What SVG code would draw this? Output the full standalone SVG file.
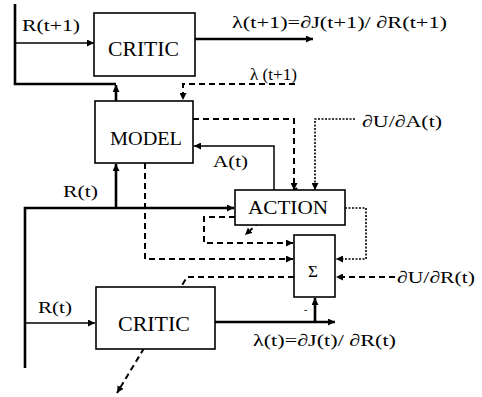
<svg xmlns="http://www.w3.org/2000/svg" width="482" height="397" viewBox="0 0 482 397">
<defs>
<marker id="ah" viewBox="0 0 10 10" refX="10" refY="5" markerWidth="7" markerHeight="7" markerUnits="userSpaceOnUse" orient="auto">
<path d="M0,0 L10,5 L0,10 z" fill="#000"/>
</marker>
</defs>
<style>
.box{fill:#fff;stroke:#000;stroke-width:1.6}
.t{font-family:"Liberation Serif","Times New Roman",serif;fill:#000}
.s{fill:none;stroke:#000;stroke-width:1.5}
.k{fill:none;stroke:#000;stroke-width:2.6}
.d{fill:none;stroke:#000;stroke-width:2;stroke-dasharray:6 4}
.o{fill:none;stroke:#000;stroke-width:1.6;stroke-dasharray:2 1.5}
</style>
<rect width="482" height="397" fill="#fff"/>
<g id="connectors">
<path class="k" d="M15,4 V84 H116"/>
<path class="s" d="M15,43 H94" marker-end="url(#ah)"/>
<path class="k" d="M116,101 V85" marker-end="url(#ah)"/>
<path class="k" d="M195,39 H313" marker-end="url(#ah)"/>
<path class="d" d="M295,84 H183 V100" marker-end="url(#ah)"/>
<path class="d" d="M193,119 H294 V190" marker-end="url(#ah)"/>
<path class="o" d="M355,119 H315 V190" marker-end="url(#ah)"/>
<path class="s" d="M274,190 V146 H194" marker-end="url(#ah)"/>
<path class="k" d="M25,368 V208 H234" marker-end="url(#ah)"/>
<path class="k" d="M116,208 V164" marker-end="url(#ah)"/>
<path class="s" d="M25,323 H95" marker-end="url(#ah)"/>
<path class="d" d="M145,163 V259 H293" marker-end="url(#ah)"/>
<path class="d" d="M235,217 H204 V243 H293" marker-end="url(#ah)"/>
<path class="d" d="M294,277 H187 L117,393" marker-end="url(#ah)"/>
<path class="d" d="M297,188 L245,235" marker-end="url(#ah)"/>
<path class="o" d="M345,208 H366 V259 H336" marker-end="url(#ah)"/>
<path class="d" d="M395,277 H336" marker-end="url(#ah)"/>
<path class="k" d="M215,322 H335" marker-end="url(#ah)"/>
<path class="k" d="M315,322 V298" marker-end="url(#ah)"/>
</g>
<g id="critic-top">
<rect class="box" x="94" y="13" width="101" height="63"/>
<text class="t" x="108" y="56" font-size="20" textLength="71" lengthAdjust="spacingAndGlyphs">CRITIC</text>
</g>
<g id="model">
<rect class="box" x="95" y="101" width="98" height="62"/>
<text class="t" x="110" y="145" font-size="19" textLength="72" lengthAdjust="spacingAndGlyphs">MODEL</text>
</g>
<g id="action">
<rect class="box" x="235" y="190" width="110" height="35"/>
<text class="t" x="248" y="214" font-size="19" textLength="80" lengthAdjust="spacingAndGlyphs">ACTION</text>
</g>
<g id="sigma">
<rect class="box" x="294" y="235" width="41" height="62"/>
<text class="t" x="308" y="277" font-size="17">Σ</text>
</g>
<g id="critic-bottom">
<rect class="box" x="96" y="287" width="119" height="62"/>
<text class="t" x="118" y="331" font-size="20" textLength="72" lengthAdjust="spacingAndGlyphs">CRITIC</text>
</g>
<g id="labels">
<text class="t" x="22" y="31" font-size="17" textLength="58" lengthAdjust="spacingAndGlyphs">R(t+1)</text>
<text class="t" x="232" y="28" font-size="17" textLength="215" lengthAdjust="spacingAndGlyphs">λ(t+1)=∂J(t+1)/ ∂R(t+1)</text>
<text class="t" x="250" y="80" font-size="16" textLength="47" lengthAdjust="spacingAndGlyphs">λ (t+1)</text>
<text class="t" x="362" y="127" font-size="17" textLength="80" lengthAdjust="spacingAndGlyphs">∂U/∂A(t)</text>
<text class="t" x="213" y="167" font-size="17" textLength="35" lengthAdjust="spacingAndGlyphs">A(t)</text>
<text class="t" x="63" y="197" font-size="17" textLength="35" lengthAdjust="spacingAndGlyphs">R(t)</text>
<text class="t" x="397" y="283" font-size="17" textLength="78" lengthAdjust="spacingAndGlyphs">∂U/∂R(t)</text>
<text class="t" x="38" y="313" font-size="17" textLength="34" lengthAdjust="spacingAndGlyphs">R(t)</text>
<text class="t" x="304" y="313" font-size="10">-</text>
<text class="t" x="253" y="346" font-size="17" textLength="143" lengthAdjust="spacingAndGlyphs">λ(t)=∂J(t)/ ∂R(t)</text>
</g>
</svg>
